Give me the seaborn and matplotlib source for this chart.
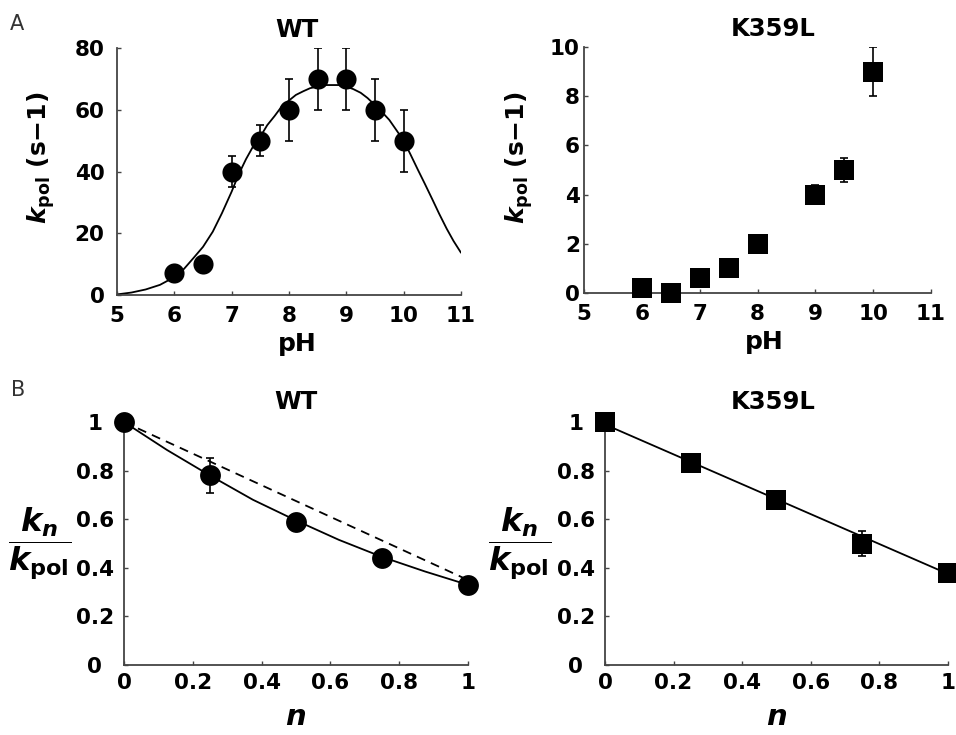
import matplotlib
matplotlib.use("Agg")
import matplotlib.pyplot as plt
import seaborn as sns

# ---- Panel A data: k_pol vs pH ----
ph_wt = [6, 6.5, 7, 7.5, 8, 8.5, 9, 9.5, 10]
kpol_wt = [7, 10, 40, 50, 60, 70, 70, 60, 50]
kpol_wt_err = [0, 0, 5, 5, 10, 10, 10, 10, 10]

# fitted curve
ph_fit = [5.0, 5.25, 5.5, 5.75, 6.0, 6.17, 6.33, 6.5, 6.67, 6.83, 7.0, 7.12,
          7.25, 7.37, 7.5, 7.62, 7.75, 7.87, 8.0, 8.12, 8.25, 8.37, 8.5, 8.62,
          8.75, 8.87, 9.0, 9.12, 9.25, 9.37, 9.5, 9.62, 9.75, 9.87, 10.0,
          10.12, 10.25, 10.37, 10.5, 10.62, 10.75, 10.87, 11.0]
kpol_fit = [0.2, 0.8, 1.8, 3.3, 5.8, 8.5, 11.9, 15.6, 20.5, 26.5, 33.5, 39,
            44, 48, 51.3, 55, 58, 61, 63, 64.8, 66, 67, 67.5, 68,
            68, 68, 67.5, 66.7, 65.5, 63.8, 61.5, 59.3, 56.7, 53.5, 50,
            45.5, 40.5, 36, 31, 26.3, 21.5, 17.5, 13.7]

ph_k359l = [6, 6.5, 7, 7.5, 8, 9, 9.5, 10]
kpol_k359l = [0.2, 0.0, 0.6, 1.0, 2.0, 4.0, 5.0, 9.0]
kpol_k359l_err = [0, 0, 0, 0, 0, 0.4, 0.5, 1.0]

ph_ticks = [5, 6, 7, 8, 9, 10, 11]
wt_yticks = [0, 20, 40, 60, 80]
k359l_yticks = [0, 2, 4, 6, 8, 10]

# ---- Panel B data: k_n / k_pol vs n ----
n_pts = [0, 0.25, 0.5, 0.75, 1]
ratio_wt = [1.0, 0.78, 0.59, 0.44, 0.33]
ratio_wt_err = [0, 0.07, 0, 0, 0]
n_fit_wt = [0, 0.125, 0.25, 0.375, 0.5, 0.625, 0.75, 0.875, 1]
ratio_fit_wt = [1.0, 0.885, 0.78, 0.68, 0.595, 0.515, 0.445, 0.385, 0.33]
n_dash = [0, 1]
ratio_dash = [1.0, 0.35]

ratio_k359l = [1.0, 0.83, 0.68, 0.50, 0.38]
ratio_k359l_err = [0, 0.03, 0, 0.05, 0]
n_line_k359l = [0, 1]
ratio_line_k359l = [0.99, 0.375]

n_ticks = [0, 0.2, 0.4, 0.6, 0.8, 1]
n_ticklabels = ["0", "0.2", "0.4", "0.6", "0.8", "1"]

sns.set_style("ticks")
plt.rcParams["font.family"] = ["DejaVu Sans"]
plt.rcParams["font.weight"] = "bold"
plt.rcParams["text.color"] = "black"
plt.rcParams["axes.labelcolor"] = "black"
plt.rcParams["mathtext.fontset"] = "custom"
plt.rcParams["mathtext.rm"] = "DejaVu Sans:bold"
plt.rcParams["mathtext.bf"] = "DejaVu Sans:bold"
plt.rcParams["mathtext.it"] = "DejaVu Sans:bold:italic"

AX_COL = "#444444"
KPOL_LABEL = r"$k_{\mathrm{pol}}$ (s−1)"
FRAC_LABEL = r"$\dfrac{k_n}{k_{\mathrm{pol}}}$"


def style_axes(ax, xpad, ypad):
    sns.despine(ax=ax)
    for side in ["left", "bottom"]:
        ax.spines[side].set_color(AX_COL)
        ax.spines[side].set_linewidth(1.3)
    ax.tick_params(axis="both", direction="in", length=3, width=1,
                   color=AX_COL, labelsize=15.5, labelcolor="black")
    ax.tick_params(axis="x", pad=xpad)
    ax.tick_params(axis="y", pad=ypad)


fig = plt.figure(figsize=(9.56, 7.35), dpi=100)

# ---- A, WT ----
ax1 = fig.add_axes([0.1224, 0.5986, 0.3598, 0.3361])
ax1.errorbar(ph_wt, kpol_wt, yerr=kpol_wt_err, fmt="none", ecolor="black",
             elinewidth=1.2, capsize=3, capthick=1.2, zorder=3)
sns.lineplot(x=ph_fit, y=kpol_fit, ax=ax1, color="black", lw=1.3,
             estimator=None, sort=False, zorder=2)
sns.scatterplot(x=ph_wt, y=kpol_wt, ax=ax1, marker="o", s=210, color="black",
                edgecolor="black", linewidth=0, zorder=4, clip_on=False)
ax1.set_xlim(5, 11)
ax1.set_ylim(0, 80)
ax1.set_xticks(ph_ticks)
ax1.set_yticks(wt_yticks)
style_axes(ax1, 8, 9)
ax1.set_title("WT", fontsize=17.5, fontweight="bold", x=0.523, pad=8)
ax1.set_xlabel("pH", fontsize=18, fontweight="bold")
ax1.set_ylabel(KPOL_LABEL, fontsize=18, fontweight="bold")
ax1.yaxis.set_label_coords(-0.174, 0.555)
ax1.xaxis.set_label_coords(0.523, -0.15)

# ---- A, K359L ----
ax2 = fig.add_axes([0.6109, 0.6014, 0.3630, 0.3347])
ax2.errorbar(ph_k359l, kpol_k359l, yerr=kpol_k359l_err, fmt="none", ecolor="black",
             elinewidth=1.2, capsize=3, capthick=1.2, zorder=3)
sns.scatterplot(x=ph_k359l, y=kpol_k359l, ax=ax2, marker="s", s=190, color="black",
                edgecolor="black", linewidth=0, zorder=4, clip_on=False)
ax2.set_xlim(5, 11)
ax2.set_ylim(0, 10)
ax2.set_xticks(ph_ticks)
ax2.set_yticks(k359l_yticks)
style_axes(ax2, 8, 3)
ax2.set_title("K359L", fontsize=17.5, fontweight="bold", x=0.546, pad=8)
ax2.set_xlabel("pH", fontsize=18, fontweight="bold")
ax2.set_ylabel(KPOL_LABEL, fontsize=18, fontweight="bold")
ax2.yaxis.set_label_coords(-0.141, 0.55)
ax2.xaxis.set_label_coords(0.52, -0.15)

# ---- B, WT ----
ax3 = fig.add_axes([0.1297, 0.0952, 0.3598, 0.3306])
ax3.errorbar(n_pts, ratio_wt, yerr=ratio_wt_err, fmt="none", ecolor="black",
             elinewidth=1.2, capsize=3, capthick=1.2, zorder=3)
sns.lineplot(x=n_fit_wt, y=ratio_fit_wt, ax=ax3, color="black", lw=1.3,
             estimator=None, sort=False, zorder=2)
sns.lineplot(x=n_dash, y=ratio_dash, ax=ax3, color="black", lw=1.3,
             estimator=None, sort=False, zorder=2, linestyle=(0, (5, 3.5)))
sns.scatterplot(x=n_pts, y=ratio_wt, ax=ax3, marker="o", s=225, color="black",
                edgecolor="black", linewidth=0, zorder=4, clip_on=False)
ax3.set_xlim(0, 1)
ax3.set_ylim(0, 1)
ax3.set_xticks(n_ticks, n_ticklabels)
ax3.set_yticks(n_ticks, n_ticklabels)
style_axes(ax3, 5.5, 21)
for lab in ax3.get_yticklabels():
    lab.set_horizontalalignment("center")
ax3.set_title("WT", fontsize=17.5, fontweight="bold", x=0.5, pad=9.5)
ax3.set_xlabel("n", fontsize=21, fontweight="bold", style="italic")
ax3.set_ylabel(FRAC_LABEL, fontsize=23, rotation=0, va="center", ha="center")
ax3.yaxis.set_label_coords(-0.244, 0.5)
ax3.xaxis.set_label_coords(0.5, -0.155)

# ---- B, K359L ----
ax4 = fig.add_axes([0.6328, 0.0952, 0.3588, 0.3306])
ax4.errorbar(n_pts, ratio_k359l, yerr=ratio_k359l_err, fmt="none", ecolor="black",
             elinewidth=1.2, capsize=3, capthick=1.2, zorder=3)
sns.lineplot(x=n_line_k359l, y=ratio_line_k359l, ax=ax4, color="black", lw=1.3,
             estimator=None, sort=False, zorder=2)
sns.scatterplot(x=n_pts, y=ratio_k359l, ax=ax4, marker="s", s=200, color="black",
                edgecolor="black", linewidth=0, zorder=4, clip_on=False)
ax4.set_xlim(0, 1)
ax4.set_ylim(0, 1)
ax4.set_xticks(n_ticks, n_ticklabels)
ax4.set_yticks(n_ticks, n_ticklabels)
style_axes(ax4, 5.5, 21)
for lab in ax4.get_yticklabels():
    lab.set_horizontalalignment("center")
ax4.set_title("K359L", fontsize=17.5, fontweight="bold", x=0.49, pad=9.5)
ax4.set_xlabel("n", fontsize=21, fontweight="bold", style="italic")
ax4.set_ylabel(FRAC_LABEL, fontsize=23, rotation=0, va="center", ha="center")
ax4.yaxis.set_label_coords(-0.248, 0.5)
ax4.xaxis.set_label_coords(0.5, -0.155)

# panel letters
fig.text(10 / 956, 1 - 24 / 735, "A", fontsize=15, fontweight="normal",
         color="#333333", va="center", ha="left")
fig.text(11 / 956, 1 - 390 / 735, "B", fontsize=15, fontweight="normal",
         color="#333333", va="center", ha="left")

fig.savefig("out.png", dpi=100, facecolor="white")
